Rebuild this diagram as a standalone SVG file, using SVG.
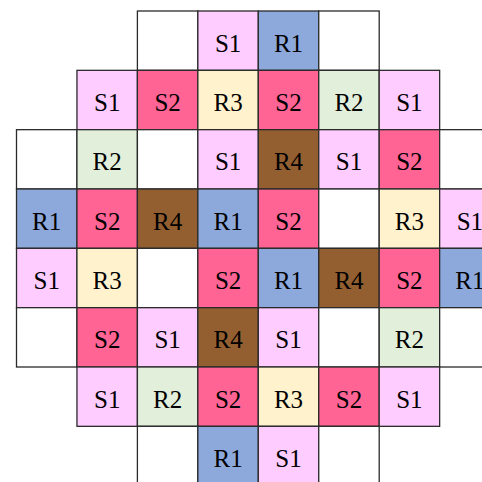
<svg xmlns="http://www.w3.org/2000/svg" width="482" height="482" viewBox="0 0 482 482">
<style>
rect{stroke:#2a2a2a;stroke-width:1.3;width:60.45px;height:59.33px}
.e{fill:#ffffff}
.s1{fill:#FFCCFF}
.s2{fill:#FF6495}
.r1{fill:#8DA9DB}
.r2{fill:#E2EFDA}
.r3{fill:#FFF2CC}
.r4{fill:#935F30}
text{font-family:"Liberation Serif","Times New Roman",serif;font-size:25px;fill:#000;text-anchor:middle}
</style>
<rect x="0" y="0" width="482" height="482" style="fill:#fff;stroke:none;width:482px;height:482px"/>
<!-- row 0 -->
<g id="r0c2"><rect class="e" x="137.4" y="11"/></g>
<g id="r0c3"><rect class="s1" x="197.85" y="11"/><text x="228.1" y="51.7">S1</text></g>
<g id="r0c4"><rect class="r1" x="258.3" y="11"/><text x="288.5" y="51.7">R1</text></g>
<g id="r0c5"><rect class="e" x="318.75" y="11"/></g>
<!-- row 1 -->
<g id="r1c1"><rect class="s1" x="76.95" y="70.33"/><text x="107.2" y="111">S1</text></g>
<g id="r1c2"><rect class="s2" x="137.4" y="70.33"/><text x="167.6" y="111">S2</text></g>
<g id="r1c3"><rect class="r3" x="197.85" y="70.33"/><text x="228.1" y="111">R3</text></g>
<g id="r1c4"><rect class="s2" x="258.3" y="70.33"/><text x="288.5" y="111">S2</text></g>
<g id="r1c5"><rect class="r2" x="318.75" y="70.33"/><text x="349" y="111">R2</text></g>
<g id="r1c6"><rect class="s1" x="379.2" y="70.33"/><text x="409.4" y="111">S1</text></g>
<!-- row 2 -->
<g id="r2c0"><rect class="e" x="16.5" y="129.67"/></g>
<g id="r2c1"><rect class="r2" x="76.95" y="129.67"/><text x="107.2" y="170.3">R2</text></g>
<g id="r2c2"><rect class="e" x="137.4" y="129.67"/></g>
<g id="r2c3"><rect class="s1" x="197.85" y="129.67"/><text x="228.1" y="170.3">S1</text></g>
<g id="r2c4"><rect class="r4" x="258.3" y="129.67"/><text x="288.5" y="170.3">R4</text></g>
<g id="r2c5"><rect class="s1" x="318.75" y="129.67"/><text x="349" y="170.3">S1</text></g>
<g id="r2c6"><rect class="s2" x="379.2" y="129.67"/><text x="409.4" y="170.3">S2</text></g>
<g id="r2c7"><rect class="e" x="439.65" y="129.67"/></g>
<!-- row 3 -->
<g id="r3c0"><rect class="r1" x="16.5" y="189"/><text x="46.7" y="229.7">R1</text></g>
<g id="r3c1"><rect class="s2" x="76.95" y="189"/><text x="107.2" y="229.7">S2</text></g>
<g id="r3c2"><rect class="r4" x="137.4" y="189"/><text x="167.6" y="229.7">R4</text></g>
<g id="r3c3"><rect class="r1" x="197.85" y="189"/><text x="228.1" y="229.7">R1</text></g>
<g id="r3c4"><rect class="s2" x="258.3" y="189"/><text x="288.5" y="229.7">S2</text></g>
<g id="r3c5"><rect class="e" x="318.75" y="189"/></g>
<g id="r3c6"><rect class="r3" x="379.2" y="189"/><text x="409.4" y="229.7">R3</text></g>
<g id="r3c7"><rect class="s1" x="439.65" y="189"/><text x="469.9" y="229.7">S1</text></g>
<!-- row 4 -->
<g id="r4c0"><rect class="s1" x="16.5" y="248.33"/><text x="46.7" y="289">S1</text></g>
<g id="r4c1"><rect class="r3" x="76.95" y="248.33"/><text x="107.2" y="289">R3</text></g>
<g id="r4c2"><rect class="e" x="137.4" y="248.33"/></g>
<g id="r4c3"><rect class="s2" x="197.85" y="248.33"/><text x="228.1" y="289">S2</text></g>
<g id="r4c4"><rect class="r1" x="258.3" y="248.33"/><text x="288.5" y="289">R1</text></g>
<g id="r4c5"><rect class="r4" x="318.75" y="248.33"/><text x="349" y="289">R4</text></g>
<g id="r4c6"><rect class="s2" x="379.2" y="248.33"/><text x="409.4" y="289">S2</text></g>
<g id="r4c7"><rect class="r1" x="439.65" y="248.33"/><text x="469.9" y="289">R1</text></g>
<!-- row 5 -->
<g id="r5c0"><rect class="e" x="16.5" y="307.67"/></g>
<g id="r5c1"><rect class="s2" x="76.95" y="307.67"/><text x="107.2" y="348.3">S2</text></g>
<g id="r5c2"><rect class="s1" x="137.4" y="307.67"/><text x="167.6" y="348.3">S1</text></g>
<g id="r5c3"><rect class="r4" x="197.85" y="307.67"/><text x="228.1" y="348.3">R4</text></g>
<g id="r5c4"><rect class="s1" x="258.3" y="307.67"/><text x="288.5" y="348.3">S1</text></g>
<g id="r5c5"><rect class="e" x="318.75" y="307.67"/></g>
<g id="r5c6"><rect class="r2" x="379.2" y="307.67"/><text x="409.4" y="348.3">R2</text></g>
<g id="r5c7"><rect class="e" x="439.65" y="307.67"/></g>
<!-- row 6 -->
<g id="r6c1"><rect class="s1" x="76.95" y="367"/><text x="107.2" y="407.7">S1</text></g>
<g id="r6c2"><rect class="r2" x="137.4" y="367"/><text x="167.6" y="407.7">R2</text></g>
<g id="r6c3"><rect class="s2" x="197.85" y="367"/><text x="228.1" y="407.7">S2</text></g>
<g id="r6c4"><rect class="r3" x="258.3" y="367"/><text x="288.5" y="407.7">R3</text></g>
<g id="r6c5"><rect class="s2" x="318.75" y="367"/><text x="349" y="407.7">S2</text></g>
<g id="r6c6"><rect class="s1" x="379.2" y="367"/><text x="409.4" y="407.7">S1</text></g>
<!-- row 7 -->
<g id="r7c2"><rect class="e" x="137.4" y="426.33"/></g>
<g id="r7c3"><rect class="r1" x="197.85" y="426.33"/><text x="228.1" y="467">R1</text></g>
<g id="r7c4"><rect class="s1" x="258.3" y="426.33"/><text x="288.5" y="467">S1</text></g>
<g id="r7c5"><rect class="e" x="318.75" y="426.33"/></g>
</svg>
